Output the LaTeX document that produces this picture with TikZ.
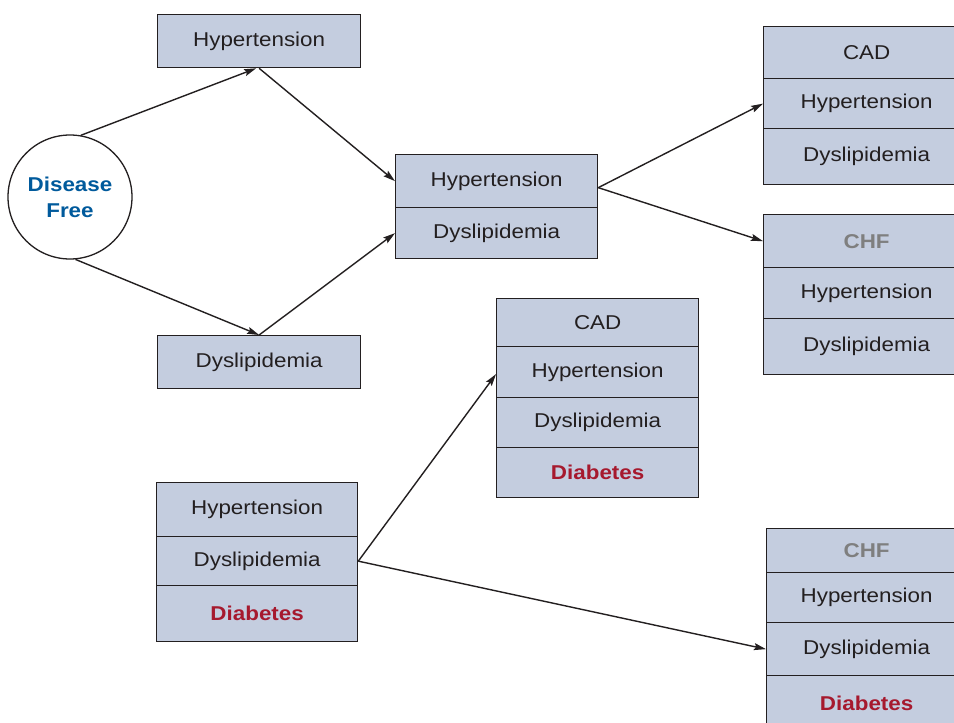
\documentclass[tikz,border=0pt]{standalone}
\usepackage{fontspec}
\setmainfont{Liberation Sans}[FakeStretch=1.12]
\usetikzlibrary{arrows.meta,calc}
\definecolor{boxfill}{HTML}{C4CDDF}
\definecolor{ink}{HTML}{231F20}
\definecolor{dfblue}{HTML}{005A9C}
\definecolor{dred}{HTML}{A6192E}
\definecolor{dgray}{HTML}{7F7F7F}
\tikzset{
  cell/.style={draw=ink, fill=boxfill, line width=1.3pt, inner sep=0pt,
    anchor=north west, minimum width=203pt, text=ink,
    font=\fontsize{20}{24}\selectfont},
  redtxt/.style={text=dred, font=\fontsize{20}{24}\selectfont\bfseries},
  graytxt/.style={text=dgray, font=\fontsize{20}{24}\selectfont\bfseries},
  conn/.style={draw=ink, line width=1.4pt,
    -{Stealth[length=12pt,width=7pt,inset=2pt]}},
}
\begin{document}
\begin{tikzpicture}[x=1pt,y=-1pt]
\useasboundingbox (0,0) rectangle (954,723);
\fill[white] (0,0) rectangle (954,723);
\clip (0,0) rectangle (954,723);

% Disease free circle
\node[draw=ink, line width=1.3pt, circle, minimum size=124pt, fill=white,
  align=center, text=dfblue, inner sep=0pt,
  font=\fontsize{20}{26}\selectfont\bfseries] (dis) at (70,197) {Disease\\Free};

% single boxes
\node[cell, minimum height=53pt] (ht) at (157,14) {Hypertension};
\node[cell, minimum height=53pt] (dy) at (157,335) {Dyslipidemia};

% middle box
\node[cell, minimum width=202pt, minimum height=53pt] (m1) at (395,154) {Hypertension};
\node[cell, minimum width=202pt, minimum height=51pt] (m2) at (395,207) {Dyslipidemia};

% top right CAD box
\node[cell, minimum width=206pt, minimum height=52pt] (c1) at (763,26) {CAD};
\node[cell, minimum width=206pt, minimum height=50pt] (c2) at (763,78) {Hypertension};
\node[cell, minimum width=206pt, minimum height=56pt] (c3) at (763,128) {Dyslipidemia};

% right CHF box
\node[cell, minimum width=206pt, minimum height=53pt, graytxt] (h1) at (763,214) {CHF};
\node[cell, minimum width=206pt, minimum height=51pt] (h2) at (763,267) {Hypertension};
\node[cell, minimum width=206pt, minimum height=56pt] (h3) at (763,318) {Dyslipidemia};

% middle CAD + diabetes box
\node[cell, minimum width=202pt, minimum height=48pt] (d1) at (496,298) {CAD};
\node[cell, minimum width=202pt, minimum height=51pt] (d2) at (496,346) {Hypertension};
\node[cell, minimum width=202pt, minimum height=50pt] (d3) at (496,397) {Dyslipidemia};
\node[cell, minimum width=202pt, minimum height=50pt, redtxt] (d4) at (496,447) {Diabetes};

% bottom left box
\node[cell, minimum width=201pt, minimum height=54pt] (b1) at (156,482) {Hypertension};
\node[cell, minimum width=201pt, minimum height=49pt] (b2) at (156,536) {Dyslipidemia};
\node[cell, minimum width=201pt, minimum height=56pt, redtxt] (b3) at (156,585) {Diabetes};

% bottom right CHF + diabetes box
\node[cell, minimum width=200pt, minimum height=44pt, graytxt] (r1) at (766,528) {CHF};
\node[cell, minimum width=200pt, minimum height=50pt] (r2) at (766,572) {Hypertension};
\node[cell, minimum width=200pt, minimum height=53pt] (r3) at (766,622) {Dyslipidemia};
\node[cell, minimum width=200pt, minimum height=56pt, redtxt] (r4) at (766,675) {Diabetes};

% connectors
\draw[conn] (dis.80) -- ([xshift=-3pt]ht.south);
\draw[conn] (ht.south) -- (m1.west);
\draw[conn] (dis.-85) -- (dy.north);
\draw[conn] (dy.north) -- (m2.west);
\coordinate (mout) at ([yshift=-6.5pt]m1.east);
\draw[conn] (mout) -- (c2.west);
\draw[conn] (mout) -- (h1.west);
\draw[conn] (b2.east) -- ([yshift=-2pt]d2.west);
\draw[conn] (b2.east) -- (r3.west);
\end{tikzpicture}
\end{document}
